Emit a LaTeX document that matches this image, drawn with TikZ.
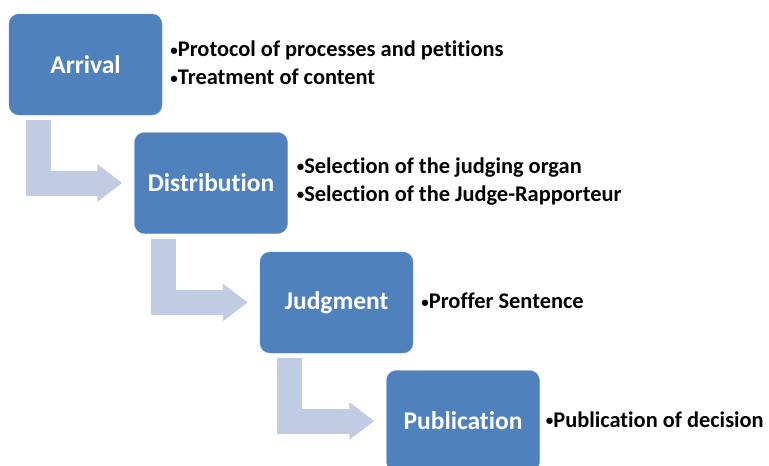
\documentclass[tikz,border=0pt]{standalone}
\usepackage{fontspec}
\setmainfont{Carlito}[Ligatures={TeX,NoCommon}]
\usepackage{tikz}
\usetikzlibrary{arrows.meta, positioning, calc}
\definecolor{stageblue}{RGB}{79, 129, 189}
\definecolor{flowgray} {RGB}{192, 204, 226}
\newcommand{\notebullet}{\raisebox{1.6pt}{\fontsize{15}{15}\selectfont•}}

\tikzset{
	stage/.style={fill=stageblue, draw=stageblue!85!white, rounded corners=10pt,
		minimum width=153pt, minimum height=101pt, inner sep=0pt,
		text=white, font=\fontsize{25.5}{28}\selectfont\bfseries},
	notes/.style={align=left, inner sep=0pt, text=black, yshift=1.5pt,
		font=\fontsize{22.4}{28}\selectfont\bfseries},
	bent/.style={line width=25pt, flowgray, line join=miter,
		-{Triangle[length=25pt, width=36pt]}}
}

\begin{document}
\begin{tikzpicture}[x=1pt, y=-1pt]
				\useasboundingbox (0,0) rectangle (769,466);
				\node[stage] (arrival)      at (85.5,64.5)  {Arrival};
				\node[stage] (distribution) at (211,183)    {Distribution};
				\node[stage] (judgment)     at (336.5,302.5) {Judgment};
				\node[stage] (publication)  at (463,421)    {Publication};
				\node[notes, right=8pt of arrival]      (arrivalnotes)      {\notebullet Protocol of processes and petitions\\\notebullet Treatment of content};
				\node[notes, right=9pt of distribution] (distributionnotes) {\notebullet Selection of the judging organ\\\notebullet Selection of the Judge-Rapporteur};
				\node[notes, right=8pt of judgment]     (judgmentnotes)     {\notebullet Proffer Sentence};
				\node[notes, right=6pt of publication]  (publicationnotes)  {\notebullet Publication of decision};
				\foreach \from/\to in {arrival/distribution, distribution/judgment, judgment/publication}
					\draw[bent] ([shift={(29.5pt,-5pt)}]\from.south west) |- ([xshift=-12pt]\to.west);
			\end{tikzpicture}
\end{document}
